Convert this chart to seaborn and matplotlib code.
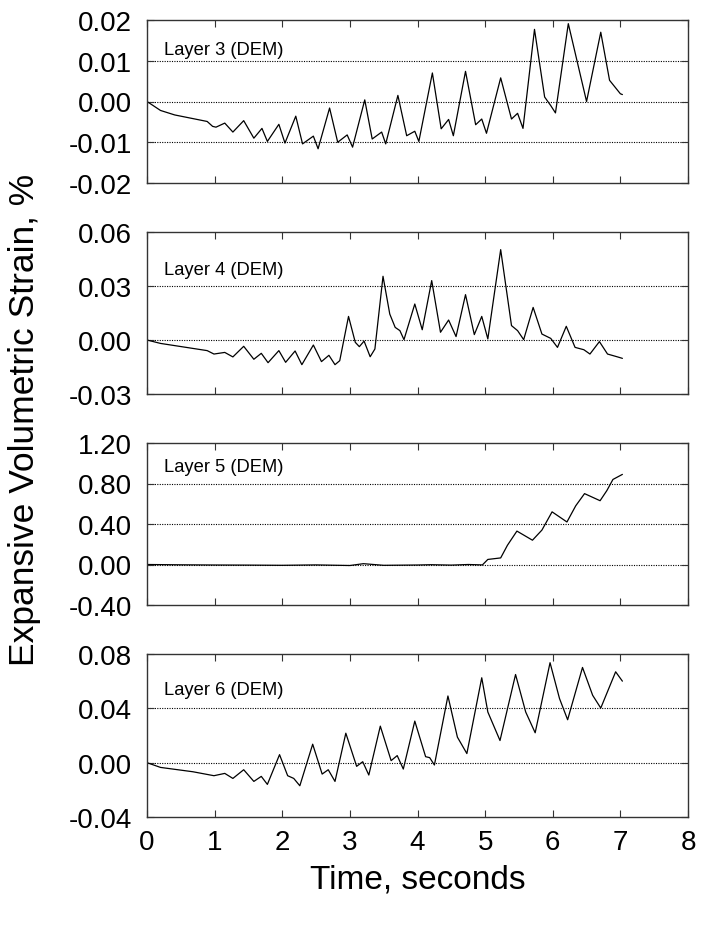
import numpy as np
import pandas as pd
import matplotlib
matplotlib.use("Agg")
import matplotlib.pyplot as plt
import seaborn as sns

# ---------------------------------------------------------------------------
# Data (time in s, strain in %)
# ---------------------------------------------------------------------------
t3 = [0.00, 0.20, 0.41, 0.89, 0.97, 1.02, 1.15, 1.27, 1.43, 1.58, 1.70, 1.78,
      1.95, 2.04, 2.20, 2.30, 2.46, 2.53, 2.70, 2.82, 2.96, 3.04, 3.22, 3.33,
      3.47, 3.53, 3.71, 3.84, 3.96, 4.02, 4.22, 4.35, 4.46, 4.53, 4.71, 4.86,
      4.95, 5.02, 5.23, 5.39, 5.48, 5.56, 5.73, 5.88, 5.97, 6.04, 6.23, 6.50,
      6.71, 6.84, 7.00, 7.03]
s3 = [0.0, -0.0022, -0.0033, -0.0049, -0.0061, -0.0063, -0.0053, -0.0075,
      -0.0047, -0.0090, -0.0066, -0.0098, -0.0056, -0.0102, -0.0036, -0.0104,
      -0.0085, -0.0116, -0.0016, -0.0100, -0.0082, -0.0112, 0.0004, -0.0092,
      -0.0075, -0.0104, 0.0015, -0.0084, -0.0073, -0.0098, 0.0070, -0.0067,
      -0.0044, -0.0084, 0.0074, -0.0057, -0.0043, -0.0078, 0.0058, -0.0043,
      -0.0029, -0.0066, 0.0177, 0.0011, -0.0010, -0.0028, 0.0191, 0.0,
      0.0170, 0.0052, 0.0019, 0.0017]

t4 = [0.00, 0.20, 0.89, 0.99, 1.15, 1.27, 1.43, 1.58, 1.69, 1.79, 1.95, 2.05,
      2.19, 2.29, 2.46, 2.58, 2.69, 2.78, 2.85, 2.98, 3.08, 3.14, 3.21, 3.30,
      3.37, 3.49, 3.59, 3.67, 3.74, 3.80, 3.96, 4.07, 4.21, 4.34, 4.46, 4.57,
      4.71, 4.84, 4.95, 5.04, 5.23, 5.39, 5.48, 5.57, 5.71, 5.84, 5.97, 6.07,
      6.20, 6.33, 6.46, 6.55, 6.69, 6.81, 6.95, 7.03]
s4 = [0.0, -0.0019, -0.0059, -0.0078, -0.0069, -0.0094, -0.0035, -0.0107,
      -0.0074, -0.0126, -0.0059, -0.0124, -0.0061, -0.0137, -0.0028, -0.0120,
      -0.0085, -0.0137, -0.0115, 0.0131, -0.0013, -0.0037, -0.0006, -0.0093,
      -0.0050, 0.0354, 0.0144, 0.0070, 0.0052, 0.0002, 0.0200, 0.0057, 0.0330,
      0.0043, 0.0111, 0.0019, 0.0252, 0.0030, 0.0131, 0.0006, 0.0502, 0.0080,
      0.0052, 0.0002, 0.0181, 0.0033, 0.0009, -0.0041, 0.0076, -0.0041,
      -0.0054, -0.0078, -0.0009, -0.0078, -0.0093, -0.0102]

t5 = [0.00, 0.50, 1.00, 1.50, 2.00, 2.50, 3.00, 3.20, 3.50, 4.00, 4.20, 4.50,
      4.75, 4.96, 5.04, 5.23, 5.33, 5.47, 5.70, 5.84, 5.99, 6.21, 6.34, 6.47,
      6.70, 6.80, 6.89, 7.03]
s5 = [0.0, -0.003, -0.005, -0.006, -0.008, -0.004, -0.010, 0.008, -0.008,
      -0.005, -0.002, -0.006, 0.0, -0.004, 0.05, 0.065, 0.19, 0.33, 0.24,
      0.34, 0.52, 0.42, 0.58, 0.70, 0.63, 0.73, 0.84, 0.89]

t6 = [0.00, 0.20, 0.68, 0.99, 1.15, 1.27, 1.43, 1.58, 1.69, 1.78, 1.96, 2.08,
      2.17, 2.26, 2.45, 2.59, 2.68, 2.78, 2.94, 3.10, 3.19, 3.28, 3.45, 3.61,
      3.70, 3.79, 3.96, 4.12, 4.18, 4.25, 4.45, 4.59, 4.73, 4.95, 5.04, 5.22,
      5.45, 5.60, 5.74, 5.96, 6.10, 6.22, 6.44, 6.59, 6.71, 6.93, 7.03]
s6 = [0.0, -0.0035, -0.0067, -0.0096, -0.0079, -0.0116, -0.0052, -0.0138,
      -0.0101, -0.0160, 0.0059, -0.0096, -0.0116, -0.0170, 0.0136, -0.0084,
      -0.0052, -0.0138, 0.0217, -0.0027, 0.0007, -0.0091, 0.0269, 0.0015,
      0.0052, -0.0047, 0.0306, 0.0044, 0.0037, -0.0017, 0.0491, 0.0188,
      0.0067, 0.0625, 0.0373, 0.0163, 0.0649, 0.0373, 0.0220, 0.0736, 0.0472,
      0.0316, 0.0701, 0.0496, 0.0402, 0.0669, 0.0600]

layers = ["Layer 3 (DEM)", "Layer 4 (DEM)", "Layer 5 (DEM)", "Layer 6 (DEM)"]
y_limits = [(-0.02, 0.02), (-0.03, 0.06), (-0.40, 1.20), (-0.04, 0.08)]
y_steps = [0.01, 0.03, 0.40, 0.04]
x_ticks = [0, 1, 2, 3, 4, 5, 6, 7, 8]

series = [(t3, s3), (t4, s4), (t5, s5), (t6, s6)]

# ---------------------------------------------------------------------------
# Style
# ---------------------------------------------------------------------------
sns.set_style("ticks")
plt.rcParams["font.family"] = ["Liberation Sans", "DejaVu Sans"]
plt.rcParams["text.color"] = "black"
plt.rcParams["xtick.labelcolor"] = "black"
plt.rcParams["ytick.labelcolor"] = "black"

fig = plt.figure(figsize=(7.13, 9.29), dpi=100)

# panel rectangles in pixels of the 713x929 canvas
W, H = 713, 929
left_px, right_px = 147, 688
panel_px = [(21, 184), (233, 395), (444, 606), (655, 818)]
label_y = [0.82, 0.77, 0.855, 0.785]

frame_col = "#333333"

for i, ((top, bot), (tt, ss)) in enumerate(zip(panel_px, series)):
    ax = fig.add_axes([left_px / W, 1 - bot / H,
                       (right_px - left_px) / W, (bot - top) / H])
    df = pd.DataFrame({"time": tt, "strain": ss})
    sns.lineplot(data=df, x="time", y="strain", ax=ax, color="black",
                 linewidth=0.9, estimator=None, sort=False)

    lo, hi = y_limits[i]
    step = y_steps[i]
    yt = np.round(np.arange(lo, hi + step / 2, step), 4)
    ax.set_ylim(lo, hi)
    ax.set_xlim(0, 8)
    ax.set_yticks(yt)
    ax.set_yticklabels([f"{v:.2f}" for v in yt])
    ax.set_xticks(x_ticks)

    # dotted reference lines at the interior ticks
    for v in yt[1:-1]:
        ax.axhline(v, color="black", linestyle=(0, (1, 1.2)), linewidth=0.8,
                   zorder=0)

    ax.tick_params(direction="in", top=True, right=True, length=5,
                   width=0.8, color=frame_col, labelsize=20, pad=11,
                   labelcolor="black")
    for sp in ax.spines.values():
        sp.set_color(frame_col)
        sp.set_linewidth(1.0)

    ax.set_xlabel("")
    ax.set_ylabel("")
    if i < 3:
        ax.set_xticklabels([])
    else:
        ax.tick_params(axis="x", pad=9)

    ax.text(0.031, label_y[i], layers[i], transform=ax.transAxes,
            fontsize=13.2, va="center", ha="left", color="black")

fig.text(25 / W, 1 - 420 / H, "Expansive Volumetric Strain, %",
         rotation=90, fontsize=25.5, va="center", ha="center", color="black")
fig.text(418 / W, 1 - 880 / H, "Time, seconds",
         fontsize=24, va="center", ha="center", color="black")

fig.savefig("out.png", dpi=100)
plt.close(fig)
